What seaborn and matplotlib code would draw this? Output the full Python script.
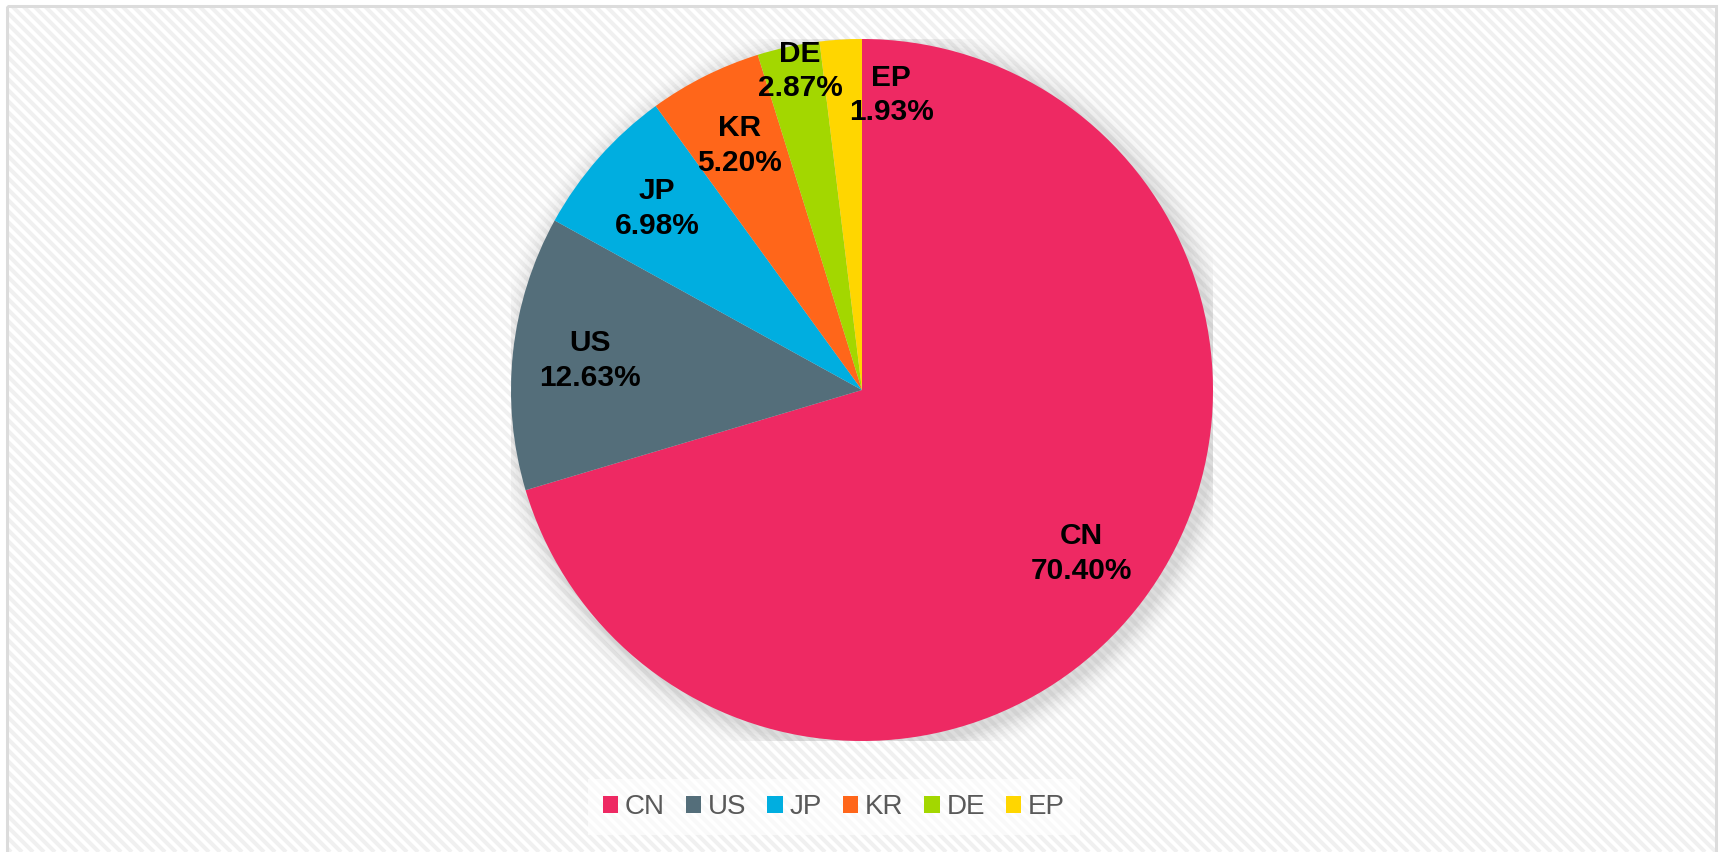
import numpy as np
import matplotlib
matplotlib.use("Agg")
import matplotlib.pyplot as plt
import seaborn as sns
from matplotlib.patches import Circle, Rectangle

# data
countries = ["CN", "US", "JP", "KR", "DE", "EP"]
shares = [70.40, 12.63, 6.98, 5.20, 2.87, 1.93]
colors = ["#EE2963", "#546E7A", "#00AEE0", "#FF661A", "#A3D700", "#FFD600"]

sns.set_theme(style="white")
plt.rcParams['font.family'] = ['Liberation Sans', 'DejaVu Sans']

W, H = 1721, 852
fig = plt.figure(figsize=(W / 100, H / 100), dpi=100)
fig.patch.set_facecolor("white")

# striped background inside a light border
bg = fig.add_axes([0, 0, 1, 1])
bg.set_xlim(0, W)
bg.set_ylim(H, 0)
bg.axis("off")
frame = Rectangle((7, 6), W - 12, H + 20, fill=False, ec="#DCDCDC", lw=2.2, zorder=5)
bg.add_patch(frame)
clip = Rectangle((7, 6), W - 12, H + 20, transform=bg.transData)
for x0 in np.arange(-H, W + 20, 11):
    ln, = bg.plot([x0, x0 + H], [0, H], color="#F0F0F0", lw=2.9,
                  solid_capstyle="butt", zorder=1)
    ln.set_clip_path(clip)

# pie axes
cx, cy, r = 862, 390, 351
ax = fig.add_axes([(cx - r) / W, (H - cy - r) / H, 2 * r / W, 2 * r / H])

# soft shadow
for i, a in enumerate(np.linspace(0.06, 0.008, 9)):
    ax.add_patch(Circle((0.014, -0.014), 1.0 + 0.008 * (i + 1), color="#909090",
                        alpha=a, lw=0, zorder=0))

wedges, _ = ax.pie(shares, colors=colors, startangle=90, counterclock=False,
                   wedgeprops=dict(linewidth=0))
for w in wedges:
    w.set_zorder(2)

# labels; small slices nudged the way the original does
nudge = {"DE": (-1.1, 0.926), "EP": (-9.1, 0.845)}
for w, name, v in zip(wedges, countries, shares):
    mid = (w.theta1 + w.theta2) / 2
    dang, rad = nudge.get(name, (0, 0.78))
    ang = np.deg2rad(mid + dang)
    ax.text(rad * np.cos(ang), rad * np.sin(ang), f"{name}\n{v:.2f}%",
            ha="center", va="center", fontsize=21.5, fontweight="bold",
            color="black", linespacing=1.3, zorder=5)

ax.set_xlim(-1, 1)
ax.set_ylim(-1, 1)
ax.set_aspect("equal")
ax.axis("off")

leg = fig.legend(wedges, countries, loc="center", ncol=6,
                 bbox_to_anchor=(0.4846, 45 / H), fontsize=20, frameon=True,
                 handlelength=0.55, handleheight=0.55, handletextpad=0.25,
                 columnspacing=0.75, borderpad=0.55)
leg.get_frame().set_facecolor("white")
leg.get_frame().set_alpha(0.65)
leg.get_frame().set_edgecolor("none")
leg.get_frame().set_boxstyle("square", pad=0)
for t in leg.get_texts():
    t.set_color("#595959")

fig.savefig("out.png", dpi=100)
